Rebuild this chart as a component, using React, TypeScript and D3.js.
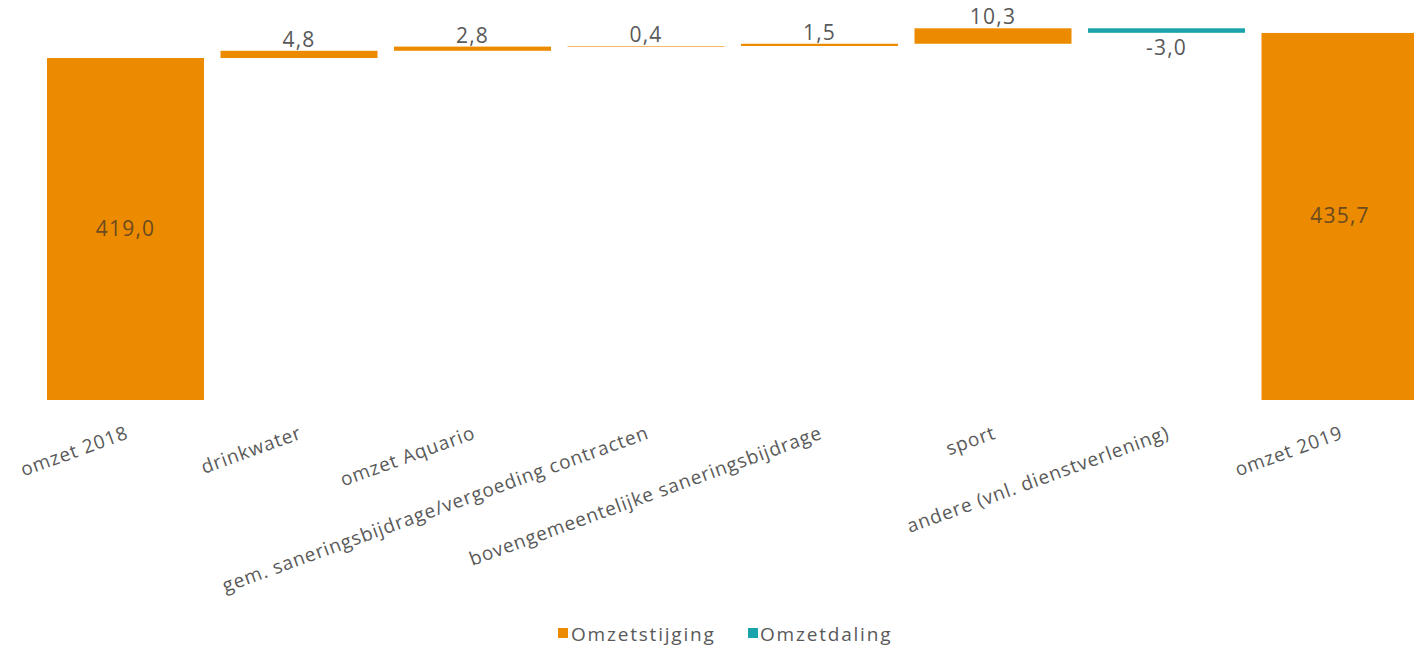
import React from "react";
import * as d3 from "d3";

const categories = [
  "omzet 2018",
  "drinkwater",
  "omzet Aquario",
  "gem. saneringsbijdrage/vergoeding contracten",
  "bovengemeentelijke saneringsbijdrage",
  "sport",
  "andere (vnl. dienstverlening)",
  "omzet 2019",
];
const values = [419.0, 4.8, 2.8, 0.4, 1.5, 10.3, -3.0, 435.7];
const isTotal = [true, false, false, false, false, false, false, true];
const valueLabels = ["419,0", "4,8", "2,8", "0,4", "1,5", "10,3", "-3,0", "435,7"];
const legendItems = ["Omzetstijging", "Omzetdaling"];

const W = 1414;
const H = 650;
const ORANGE = "#ED8B00";
const TEAL = "#1AA3AA";
const TEXT = "#595959";
const FONT = "'Open Sans', 'Noto Sans', sans-serif";

export default function App() {
  const x = d3
    .scaleBand<string>()
    .domain(categories)
    .range([38.75, 38.75 + 8 * 173.5])
    .paddingInner(0.095)
    .paddingOuter(0.0475);

  const y = d3.scaleLinear().domain([191, 440]).range([400, 26.5]);

  let cum = 0;
  const bars = categories.map((c, i) => {
    const v = values[i];
    let y0: number, y1: number;
    if (isTotal[i]) {
      y0 = 191;
      y1 = v;
      cum = v;
    } else {
      y0 = cum;
      y1 = cum + v;
      cum = y1;
    }
    const top = y(Math.max(y0, y1));
    const bottom = y(Math.min(y0, y1));
    return { c, v, top, bottom, total: isTotal[i] };
  });

  return (
    <div style={{ position: "fixed", left: 0, top: 0, background: "#fff" }}>
      <svg width={W} height={H} style={{ display: "block" }}>
        <rect width={W} height={H} fill="#fff" />
        {bars.map((b, i) => {
          const bx = x(b.c)!;
          const bw = x.bandwidth();
          const cx = bx + bw / 2;
          const fill = b.v < 0 ? TEAL : ORANGE;
          return (
            <g key={b.c}>
              <rect x={bx} y={b.top} width={bw} height={Math.max(b.bottom - b.top, 0.6)} fill={fill} />
              {b.total ? (
                <text
                  x={cx}
                  y={(b.top + b.bottom) / 2 + 7}
                  textAnchor="middle"
                  fontFamily={FONT}
                  fontSize={21}
                  letterSpacing={1.2}
                  fill="#6b4a1e"
                >
                  {valueLabels[i]}
                </text>
              ) : b.v >= 0 ? (
                <text
                  x={cx}
                  y={b.top - 4}
                  textAnchor="middle"
                  fontFamily={FONT}
                  fontSize={21}
                  letterSpacing={1.2}
                  fill={TEXT}
                >
                  {valueLabels[i]}
                </text>
              ) : (
                <text
                  x={cx}
                  y={b.bottom + 22}
                  textAnchor="middle"
                  fontFamily={FONT}
                  fontSize={21}
                  letterSpacing={1.2}
                  fill={TEXT}
                >
                  {valueLabels[i]}
                </text>
              )}
              <text
                transform={`translate(${cx + 4},438) rotate(-20)`}
                textAnchor="end"
                fontFamily={FONT}
                fontSize={19}
                letterSpacing={0.9}
                fill={TEXT}
              >
                {b.c}
              </text>
            </g>
          );
        })}
        <g>
          <rect x={558} y={628} width={10} height={10} fill={ORANGE} />
          <text x={571} y={641} fontFamily={FONT} fontSize={19} letterSpacing={1.8} fill={TEXT}>
            {legendItems[0]}
          </text>
          <rect x={748} y={628} width={10} height={10} fill={TEAL} />
          <text x={760} y={641} fontFamily={FONT} fontSize={19} letterSpacing={1.8} fill={TEXT}>
            {legendItems[1]}
          </text>
        </g>
      </svg>
    </div>
  );
}
